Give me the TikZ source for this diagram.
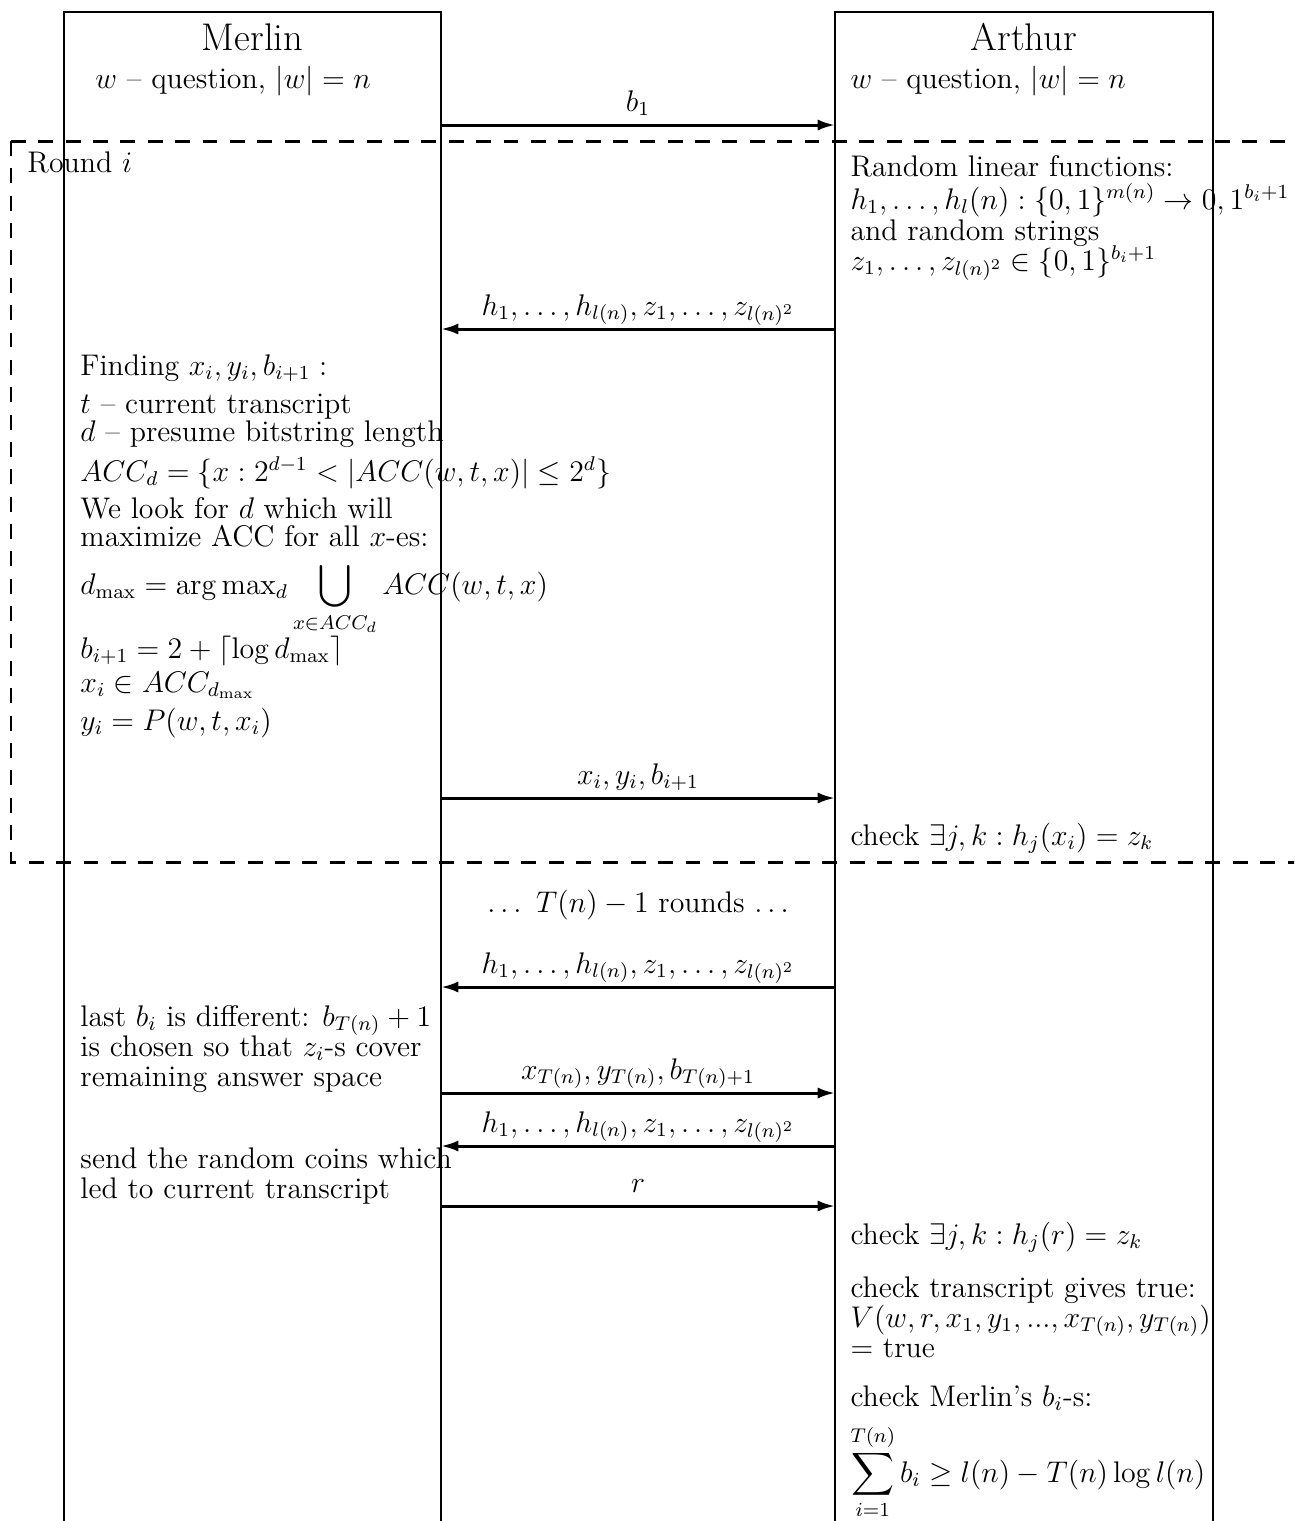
\documentclass[12pt,tikz,border=0pt]{standalone}
\usepackage{amsmath,amssymb}
\usetikzlibrary{arrows.meta}

\tikzset{
    lifeline/.style={line width=0.9pt},
    msg/.style={line width=1.2pt, -{Latex[length=7pt,width=4.5pt]}},
    msglabel/.style={above, inner sep=1pt, text depth=4pt},
    roundline/.style={line width=1.2pt, dash pattern=on 6pt off 5pt},
    txt/.style={anchor=base west, inner sep=0pt},
    party/.style={anchor=base, font=\fontsize{15.5pt}{18pt}\selectfont},
}

\begin{document}
\begin{tikzpicture}[x=0.402pt, y=-0.402pt]
    \useasboundingbox (0,0) rectangle (1294,1521);
    \clip (0,0) rectangle (1294,1521);

    % Merlin and Arthur
    \draw[lifeline] (64,1540) |- (441,12) -- (441,1540);
    \draw[lifeline] (835,1540) |- (1213,12) -- (1213,1540);
    \node[party] (merlin) at (252.5,50) {Merlin};
    \node[party] (arthur) at (1024,50) {Arthur};
    \node[txt] (mquest) at (95,88) {$w$ -- question, $|w| = n$};
    \node[txt] (aquest) at (850,88) {$w$ -- question, $|w| = n$};

    % Message ends on the two lifelines
    \foreach \y [count=\k] in {125,329,798,987,1093,1146,1206} {
        \coordinate (m\k) at (441,\y);
        \coordinate (a\k) at (835,\y);
    }

    % Round i
    \draw[roundline] (11,141) -- (1320,141);
    \draw[roundline] (11,141) -- (11,862) -- (1320,862);
    \node[txt] (round) at (27,172) {Round $i$};

    % Messages
    \draw[msg] (m1) -- node[msglabel] (lab1) {$b_1$} (a1);
    \draw[msg] (a2) -- node[msglabel] (lab2) {$h_1, \dots, h_{l(n)}, z_1, \dots, z_{l(n)^2}$} (m2);
    \draw[msg] (m3) -- node[msglabel] (lab3) {$x_i, y_i, b_{i+1}$} (a3);
    \draw[msg] (a4) -- node[msglabel] (lab4) {$h_1, \dots, h_{l(n)}, z_1, \dots, z_{l(n)^2}$} (m4);
    \draw[msg] (m5) -- node[msglabel] (lab5) {$x_{T(n)}, y_{T(n)}, b_{T(n)+1}$} (a5);
    \draw[msg] (a6) -- node[msglabel] (lab6) {$h_1, \dots, h_{l(n)}, z_1, \dots, z_{l(n)^2}$} (m6);
    \draw[msg] (m7) -- node[msglabel] (lab7) {$r$} (a7);

    \node[anchor=base] (rest) at (638,912) {$\ldots\ T(n) - 1$ rounds $\ldots$};

    % Arthur: hashing
    \foreach \y/\txt [count=\k] in {
        176/{Random linear functions:},
        209/{$h_1, \dots, h_l(n) : \{0,1\}^{m(n)} \rightarrow 0, 1^{b_i+1}$},
        240/{and random strings},
        270/{$z_1, \dots, z_{l(n)^2} \in \{0,1\}^{b_i+1}$}}
        \node[txt] (rand\k) at (850,\y) {\txt};

    % Merlin: one round
    \foreach \y/\txt [count=\k] in {
        375/{Finding $x_i, y_i, b_{i+1} :$},
        413/{$t$ -- current transcript},
        441/{$d$ -- presume bitstring length},
        481/{$ACC_d = \{x : 2^{d-1} < |ACC(w,t,x)| \leq 2^d\}$},
        518/{We look for $d$ which will},
        546/{maximize ACC for all $x$-es:},
        594/{$\displaystyle d_{\max} = \arg\max\nolimits_d \bigcup_{x \in ACC_d} ACC(w,t,x)$},
        658/{$b_{i+1} = 2 + \lceil \log d_{\max} \rceil$},
        692/{$x_i \in ACC_{d_{\max}}$},
        730/{$y_i = P(w,t,x_i)$}}
        \node[txt] (find\k) at (80,\y) {\txt};

    \node[txt] (check1) at (850,845) {check $\exists j, k : h_j(x_i) = z_k$};

    % Merlin: last round
    \foreach \y/\txt [count=\k] in {
        1026/{last $b_i$ is different: $b_{T(n)} + 1$},
        1056/{is chosen so that $z_i$-s cover},
        1086/{remaining answer space}}
        \node[txt] (last\k) at (80,\y) {\txt};
    \foreach \y/\txt [count=\k] in {
        1168/{send the random coins which},
        1198/{led to current transcript}}
        \node[txt] (coins\k) at (80,\y) {\txt};

    % Arthur: final checks
    \node[txt] (check2) at (850,1244) {check $\exists j, k : h_j(r) = z_k$};
    \foreach \y/\txt [count=\k] in {
        1297/{check transcript gives true:},
        1327/{$V(w, r, x_1, y_1, ..., x_{T(n)}, y_{T(n)})$},
        1357/{$=$ true}}
        \node[txt] (verdict\k) at (850,\y) {\txt};
    \foreach \y/\txt [count=\k] in {
        1406/{check Merlin's $b_i$-s:},
        1482/{$\displaystyle\sum_{i=1}^{T(n)} b_i \geq l(n) - T(n)\log l(n)$}}
        \node[txt] (bits\k) at (850,\y) {\txt};
\end{tikzpicture}
\end{document}
